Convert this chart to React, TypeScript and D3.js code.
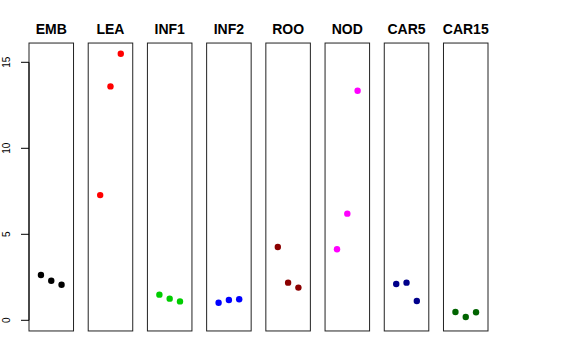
import React from "react";
import * as d3 from "d3";

const categories = ["EMB", "LEA", "INF1", "INF2", "ROO", "NOD", "CAR5", "CAR15"];
const colors = ["#000000", "#FF0000", "#00CD00", "#0000FF", "#8B0000", "#FF00FF", "#00008B", "#006400"];
const values: number[][] = [
  [2.63, 2.3, 2.07],
  [7.28, 13.6, 15.5],
  [1.49, 1.26, 1.1],
  [1.02, 1.18, 1.22],
  [4.26, 2.19, 1.9],
  [4.13, 6.2, 13.35],
  [2.11, 2.19, 1.12],
  [0.48, 0.19, 0.47],
];
const yTicks = [0, 5, 10, 15];
const replicates = ["r1", "r2", "r3"];

const W = 576;
const H = 360;

export default function App() {
  const x = d3.scaleBand<string>().domain(categories).range([29, 488]).paddingInner(0.248).paddingOuter(0);
  const y = d3.scaleLinear().domain([0, 15]).range([320.3, 62.3]);
  const yTop = y(16.12);
  const yBot = y(-0.62);
  const bw = x.bandwidth();
  const xr = d3.scalePoint<string>().domain(replicates).range([bw / 2 - 10.3, bw / 2 + 10.3]);

  return (
    <svg width={W} height={H} style={{ position: "absolute", left: 0, top: 0, background: "#fff" }}
      fontFamily="'Liberation Sans', Arial, Helvetica, sans-serif">
      {categories.map((c, i) => {
        const x0 = x(c)!;
        return (
          <g key={c}>
            <text x={x0 + bw / 2} y={34} textAnchor="middle" fontWeight="bold" fontSize={14}>{c}</text>
            <rect x={x0} y={yTop} width={bw} height={yBot - yTop} fill="none" stroke="#222" strokeWidth={1} />
            {values[i].map((v, j) => (
              <circle key={j} cx={x0 + xr(replicates[j])!} cy={y(v)} r={3.2} fill={colors[i]} />
            ))}
          </g>
        );
      })}
      <line x1={29} x2={29} y1={y(0)} y2={y(15)} stroke="#000" />
      {yTicks.map((t) => (
        <g key={t}>
          <line x1={21} x2={29} y1={y(t)} y2={y(t)} stroke="#000" />
          <text transform={`translate(10,${y(t)}) rotate(-90)`} textAnchor="middle" fontSize={10}>{t}</text>
        </g>
      ))}
    </svg>
  );
}
